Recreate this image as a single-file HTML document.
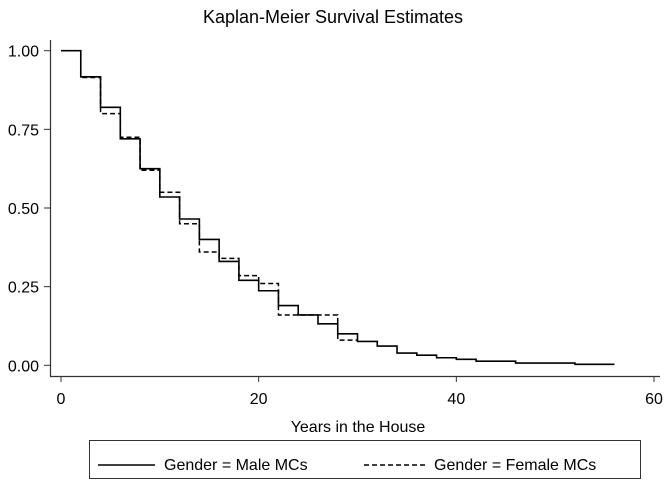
<!DOCTYPE html>
<html><head><meta charset="utf-8"><style>
body{margin:0;background:#fff}
svg text{font-family:"Liberation Sans",Arial,sans-serif;fill:#000}
</style></head><body>
<svg id="c" width="667" height="481" xmlns="http://www.w3.org/2000/svg">
<rect width="667" height="481" fill="#fff"/>
<text x="333" y="23" font-size="18" text-anchor="middle">Kaplan-Meier Survival Estimates</text>
<g id="axes"></g>
<g id="series"></g>
<text x="358" y="432" font-size="16" text-anchor="middle">Years in the House</text>
<g>
<rect x="89.5" y="440.5" width="551" height="38" fill="none" stroke="#333" stroke-width="1"/>
<line x1="98" y1="465" x2="155" y2="465" stroke="#000" stroke-width="1.5"/>
<text x="164" y="470" font-size="16">Gender = Male MCs</text>
<line x1="364" y1="465" x2="425" y2="465" stroke="#000" stroke-width="1.5" stroke-dasharray="5,3"/>
<text x="434" y="470" font-size="16">Gender = Female MCs</text>
</g>
</svg>
<script>
const maleTimes=[0,2,4,6,8,10,12,14,16,18,20,22,24,26,28,30,32,34,36,38,40,42,46,52,56];
const maleSurv=[1.00,0.917,0.82,0.72,0.625,0.535,0.465,0.40,0.33,0.27,0.237,0.19,0.16,0.132,0.10,0.076,0.061,0.039,0.032,0.024,0.019,0.013,0.007,0.003,0.003];
const femaleTimes=[0,2,4,6,8,10,12,14,16,18,20,22,24,26,28,30];
const femaleSurv=[1.00,0.915,0.80,0.725,0.62,0.55,0.45,0.36,0.34,0.285,0.26,0.16,0.16,0.16,0.08,0.08];
const xTicks=[0,20,40,60];
const yTicks=[0,0.25,0.5,0.75,1.0];
const yLabels=["0.00","0.25","0.50","0.75","1.00"];
const NS="http://www.w3.org/2000/svg";
const sx=v=>61+v*(654-61)/60;
const sy=v=>365.3-v*(365.3-50.7);
const axes=document.getElementById('axes');
function mk(tag,attrs,parent){const e=document.createElementNS(NS,tag);for(const k in attrs)e.setAttribute(k,attrs[k]);parent.appendChild(e);return e;}
const ya=mk('line',{x1:50.5,y1:40,x2:50.5,y2:376.5,stroke:'#333','stroke-width':1.2},axes);


const xa=mk('line',{x1:50,y1:376.5,x2:660,y2:376.5,stroke:'#333','stroke-width':1.2},axes);


yTicks.forEach((v,i)=>{
 mk('line',{x1:44,x2:50,y1:sy(v),y2:sy(v),stroke:'#333'},axes);
 const t=mk('text',{x:39,y:sy(v)+6,'font-size':16,'text-anchor':'end'},axes);
 t.textContent=yLabels[i];
 
 
});
xTicks.forEach(v=>{
 mk('line',{x1:sx(v),x2:sx(v),y1:376,y2:382,stroke:'#333'},axes);
 const t=mk('text',{x:sx(v),y:404,'font-size':16,'text-anchor':'middle'},axes);
 t.textContent=String(v);
 
 
});
function stepPath(ts,ss){let d='M'+sx(ts[0])+','+sy(ss[0]);for(let i=1;i<ts.length;i++){d+=' H'+sx(ts[i])+' V'+sy(ss[i]);}return d;}
const g=document.getElementById('series');
const f=mk('path',{d:stepPath(femaleTimes,femaleSurv),fill:'none',stroke:'#000','stroke-width':1.5,'stroke-dasharray':'5,3'},g);


const m=mk('path',{d:stepPath(maleTimes,maleSurv),fill:'none',stroke:'#000','stroke-width':1.6},g);


</script>
</body></html>
